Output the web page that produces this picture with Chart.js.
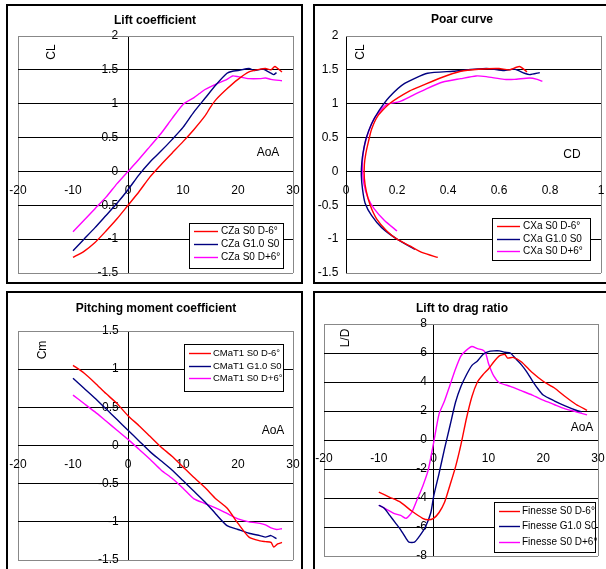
<!DOCTYPE html>
<html>
<head>
<meta charset="utf-8">
<script src="https://cdn.jsdelivr.net/npm/chart.js@4.4.0/dist/chart.umd.min.js"></script>
<style>
  body { margin: 0; background: #fff; width: 606px; height: 569px; overflow: hidden; position: relative; }
  .frame { position: absolute; border: 2px solid #000; box-sizing: border-box; }
  canvas { position: absolute; }
</style>
</head>
<body>
<div class="frame" style="left:6px;top:4px;width:297px;height:280px"></div>
<div class="frame" style="left:313px;top:4px;width:300px;height:280px"></div>
<div class="frame" style="left:6px;top:291px;width:297px;height:300px"></div>
<div class="frame" style="left:313px;top:291px;width:300px;height:300px"></div>

<canvas id="liftChart" style="left:0;top:0" width="303" height="285"></canvas>
<canvas id="polarChart" style="left:303px;top:0" width="303" height="285"></canvas>
<canvas id="momentChart" style="left:0;top:285px" width="303" height="284"></canvas>
<canvas id="ratioChart" style="left:303px;top:285px" width="303" height="284"></canvas>

<script>
// Lift coefficient CL vs AoA
const liftAoaRed = [-10, -8, -6, -4, -2, 0, 2, 4, 6, 8, 10, 12, 14, 15, 16, 18, 20, 22, 24, 25, 26, 26.7, 28];
const liftRed = [-1.27, -1.18, -1.05, -0.88, -0.70, -0.50, -0.30, -0.08, 0.10, 0.27, 0.44, 0.62, 0.82, 0.95, 1.06, 1.22, 1.36, 1.47, 1.51, 1.52, 1.50, 1.55, 1.47];
const liftAoaBlue = [-10, -8, -6, -4, -2, 0, 2, 4, 6, 8, 10, 12, 14, 16, 18, 19, 20, 22, 23, 24.5, 26, 26.5, 27];
const liftBlue = [-1.17, -1.0, -0.83, -0.65, -0.47, -0.27, -0.05, 0.14, 0.30, 0.47, 0.65, 0.88, 1.08, 1.28, 1.45, 1.48, 1.49, 1.52, 1.49, 1.51, 1.45, 1.43, 1.46];
const liftAoaMag = [-10, -8, -6, -4, -2, 0, 2, 4, 6, 8, 10, 12, 13, 14, 16, 18, 19, 20, 22, 24, 25, 26, 28];
const liftMag = [-0.89, -0.72, -0.55, -0.38, -0.18, 0.0, 0.18, 0.37, 0.56, 0.78, 0.99, 1.09, 1.15, 1.21, 1.29, 1.36, 1.41, 1.40, 1.37, 1.37, 1.38, 1.36, 1.34];

// Polar curve CL vs CD
const polarCdRed = [0.36, 0.30, 0.25, 0.20, 0.16, 0.12, 0.095, 0.08, 0.072, 0.072, 0.078, 0.088, 0.10, 0.125, 0.17, 0.25, 0.30, 0.37, 0.45, 0.52, 0.60, 0.64, 0.68, 0.71];
const polarClRed = [-1.27, -1.20, -1.10, -1.00, -0.88, -0.70, -0.50, -0.30, -0.10, 0.10, 0.27, 0.44, 0.62, 0.82, 1.00, 1.19, 1.27, 1.38, 1.48, 1.51, 1.52, 1.50, 1.55, 1.47];
const polarCdBlue = [0.27, 0.20, 0.14, 0.10, 0.075, 0.065, 0.06, 0.062, 0.068, 0.08, 0.10, 0.13, 0.17, 0.23, 0.32, 0.42, 0.55, 0.62, 0.66, 0.70, 0.72, 0.76];
const polarClBlue = [-1.15, -1.0, -0.83, -0.65, -0.47, -0.27, -0.05, 0.13, 0.30, 0.50, 0.70, 0.90, 1.10, 1.30, 1.45, 1.48, 1.52, 1.49, 1.51, 1.45, 1.43, 1.46];
const polarCdMag = [0.20, 0.15, 0.11, 0.085, 0.07, 0.065, 0.065, 0.072, 0.085, 0.11, 0.16, 0.21, 0.26, 0.315, 0.38, 0.45, 0.51, 0.55, 0.62, 0.66, 0.72, 0.75, 0.77];
const polarClMag = [-0.88, -0.72, -0.55, -0.38, -0.18, 0.0, 0.18, 0.37, 0.55, 0.78, 0.99, 1.03, 1.12, 1.22, 1.32, 1.37, 1.41, 1.40, 1.36, 1.36, 1.38, 1.36, 1.33];

// Pitching moment Cm vs AoA
const momentAoaRed = [-10, -8, -6, -4, -2, 0, 2, 4, 6, 8, 10, 12, 14, 16, 18, 20, 22, 24, 25, 26, 26.5, 27.2, 28];
const momentRed = [1.05, 0.95, 0.82, 0.68, 0.55, 0.39, 0.26, 0.12, -0.02, -0.14, -0.28, -0.42, -0.55, -0.70, -0.82, -1.02, -1.20, -1.25, -1.26, -1.27, -1.33, -1.29, -1.27];
const momentAoaBlue = [-10, -8, -6, -4, -2, 0, 2, 4, 6, 8, 10, 12, 14, 16, 18, 20, 22, 24, 25, 26, 27];
const momentBlue = [0.88, 0.75, 0.62, 0.48, 0.34, 0.20, 0.06, -0.08, -0.20, -0.32, -0.46, -0.60, -0.74, -0.90, -1.05, -1.10, -1.15, -1.18, -1.20, -1.18, -1.22];
const momentAoaMag = [-10, -8, -6, -4, -2, 0, 2, 4, 6, 8, 10, 12, 14, 16, 18, 20, 22, 24, 25, 26, 27, 28];
const momentMag = [0.66, 0.55, 0.44, 0.32, 0.20, 0.08, -0.05, -0.18, -0.32, -0.43, -0.56, -0.70, -0.76, -0.82, -0.89, -0.96, -1.00, -1.02, -1.04, -1.08, -1.10, -1.09];

// Lift to drag ratio L/D vs AoA
const ratioAoaRed = [-10, -8, -6, -4, -2, -1, 0, 1, 2, 3, 4, 5, 6, 7, 8, 9, 10, 11, 12, 13, 13.5, 14.5, 16, 18, 20, 22, 24, 26, 28];
const ratioRed = [-3.6, -3.95, -4.3, -4.9, -5.4, -5.5, -5.4, -5.0, -4.3, -3.1, -1.85, -0.3, 1.5, 3.0, 4.0, 4.5, 4.9, 5.4, 5.8, 5.9, 5.65, 5.7, 5.4, 4.65, 4.05, 3.6, 3.0, 2.45, 2.05];
const ratioAoaBlue = [-10, -9, -8, -7, -6, -5, -4.5, -3.5, -2.5, -1.5, -0.5, 0, 1, 2, 3, 4, 5, 6, 7, 8, 9, 10, 11, 12, 13, 14, 15, 16, 17, 18, 19, 20, 22, 24, 26, 27];
const ratioBlue = [-4.5, -4.7, -5.2, -5.7, -6.2, -6.8, -7.05, -7.05, -6.6, -6.0, -5.0, -3.9, -2.3, -0.6, 1.0, 2.6, 3.7, 4.5, 5.15, 5.45, 5.9, 6.1, 6.15, 6.15, 6.05, 6.0, 5.6, 5.2, 4.7, 4.1, 3.55, 3.1, 2.7, 2.35, 2.05, 1.95];
const ratioAoaMag = [-10, -9, -8, -7, -6, -5, -4, -3, -2, -1, 0, 1, 2, 3, 4, 5, 6, 7, 8, 9, 9.5, 10, 11, 12, 14, 16, 18, 20, 22, 24, 26, 28];
const ratioMag = [-4.5, -4.7, -4.9, -5.1, -5.2, -5.4, -5.0, -4.1, -3.2, -2.1, -0.2, 1.8, 2.7, 3.8, 4.9, 5.8, 6.2, 6.45, 6.3, 6.2, 6.0, 5.3, 4.4, 3.95, 3.7, 3.4, 3.1, 2.75, 2.45, 2.15, 1.95, 1.73];

const RED = '#ff0000';
const BLUE = '#000080';
const MAGENTA = '#ff00ff';
const FONT = '"Liberation Sans", Arial, sans-serif';

function pts(xs, ys) {
  return xs.map((x, i) => ({ x, y: ys[i] }));
}

function series(label, color, xs, ys) {
  return {
    label,
    data: pts(xs, ys),
    borderColor: color,
    backgroundColor: color,
    borderWidth: 1.4,
    pointRadius: 0,
    showLine: true,
    tension: 0.2,
    fill: false
  };
}

function fmt(v) {
  return String(Math.round(v * 100) / 100);
}

// Title and axis names drawn at fixed spots
const panelText = {
  id: 'panelText',
  afterDraw(chart, args, opts) {
    const ctx = chart.ctx;
    ctx.save();
    ctx.fillStyle = '#000';
    ctx.textAlign = 'center';
    ctx.textBaseline = 'middle';
    opts.items.forEach(it => {
      ctx.font = it.font || '12px ' + FONT;
      ctx.save();
      ctx.translate(it.x, it.y);
      if (it.rotate) ctx.rotate(it.rotate);
      ctx.fillText(it.text, 0, 0);
      ctx.restore();
    });
    ctx.restore();
  }
};

// Excel style legend box inside the plot
const boxLegend = {
  id: 'boxLegend',
  afterDraw(chart, args, o) {
    const ctx = chart.ctx;
    ctx.save();
    ctx.fillStyle = '#fff';
    ctx.fillRect(o.x, o.y, o.w, o.h);
    ctx.strokeStyle = '#000';
    ctx.lineWidth = 1;
    ctx.strokeRect(o.x + 0.5, o.y + 0.5, o.w, o.h);
    ctx.font = o.font;
    ctx.textAlign = 'left';
    ctx.textBaseline = 'middle';
    chart.data.datasets.forEach((ds, i) => {
      const y = Math.round(o.rows[i]) + 0.5;
      ctx.strokeStyle = ds.borderColor;
      ctx.lineWidth = 1.4;
      ctx.beginPath();
      ctx.moveTo(o.x1, y);
      ctx.lineTo(o.x2, y);
      ctx.stroke();
      ctx.fillStyle = '#000';
      ctx.fillText(ds.label, o.tx, o.rows[i] + 0.5);
    });
    ctx.restore();
  }
};

function axes(o) {
  const tickFont = { family: FONT, size: 12 };
  return {
    x: {
      type: 'linear',
      min: o.xmin,
      max: o.xmax,
      position: { y: 0 },
      // the (invisible) tick length pushes labels below the axis without shrinking the plot
      ticks: { stepSize: o.xstep, padding: 0, autoSkip: false, maxRotation: 0, font: tickFont, color: '#000', callback: fmt },
      grid: {
        drawTicks: true,
        tickLength: o.xpad,
        tickColor: 'rgba(0,0,0,0)',
        color: c => c.tick.value === 0 ? '#000' : ((c.tick.value === o.xmin || c.tick.value === o.xmax) ? '#888' : 'rgba(0,0,0,0)')
      },
      border: { display: false }
    },
    y: {
      type: 'linear',
      min: o.ymin,
      max: o.ymax,
      position: { x: o.ylab },
      ticks: { stepSize: o.ystep, padding: 0, autoSkip: false, font: tickFont, color: '#000', callback: fmt },
      grid: {
        drawTicks: false,
        color: c => (c.tick.value === o.ymin || c.tick.value === o.ymax) ? '#888' : '#000'
      },
      border: { display: false }
    }
  };
}

function makeChart(id, datasets, scaleOpts, padding, texts, legend) {
  return new Chart(document.getElementById(id), {
    type: 'scatter',
    data: { datasets },
    options: {
      responsive: false,
      animation: false,
      layout: { padding },
      scales: axes(scaleOpts),
      plugins: {
        legend: { display: false },
        tooltip: { enabled: false },
        panelText: { items: texts },
        boxLegend: legend
      }
    },
    plugins: [panelText, boxLegend]
  });
}

const TITLE = 'bold 12px ' + FONT;
const UP = -Math.PI / 2;

makeChart('liftChart', [
  series('CZa S0 D-6°', RED, liftAoaRed, liftRed),
  series('CZa G1.0 S0', BLUE, liftAoaBlue, liftBlue),
  series('CZa S0 D+6°', MAGENTA, liftAoaMag, liftMag)
], { xmin: -20, xmax: 30, xstep: 10, xpad: 12, ymin: -1.5, ymax: 2, ystep: 0.5, ylab: -1.8 },
  { left: 18, top: 36, right: 10, bottom: 12 },
  [
    { text: 'Lift coefficient', x: 155, y: 21, font: TITLE },
    { text: 'CL', x: 52, y: 52, rotate: UP },
    { text: 'AoA', x: 268, y: 153 }
  ],
  { x: 189, y: 223, w: 94, h: 45, rows: [230.5, 243.5, 256.5], x1: 194, x2: 218, tx: 221, font: '10px ' + FONT });

makeChart('polarChart', [
  series('CXa S0 D-6°', RED, polarCdRed, polarClRed),
  series('CXa G1.0 S0', BLUE, polarCdBlue, polarClBlue),
  series('CXa S0 D+6°', MAGENTA, polarCdMag, polarClMag)
], { xmin: 0, xmax: 1, xstep: 0.2, xpad: 12, ymin: -1.5, ymax: 2, ystep: 0.5, ylab: -0.03 },
  { left: 43, top: 36, right: 5, bottom: 12 },
  [
    { text: 'Poar curve', x: 159, y: 20, font: TITLE },
    { text: 'CL', x: 58, y: 52, rotate: UP },
    { text: 'CD', x: 269, y: 155 }
  ],
  { x: 189, y: 218, w: 98, h: 42, rows: [225.5, 238.5, 250.5], x1: 194, x2: 217, tx: 220, font: '10px ' + FONT });

makeChart('momentChart', [
  series('CMaT1 S0 D-6°', RED, momentAoaRed, momentRed),
  series('CMaT1 G1.0 S0', BLUE, momentAoaBlue, momentBlue),
  series('CMaT1 S0 D+6°', MAGENTA, momentAoaMag, momentMag)
], { xmin: -20, xmax: 30, xstep: 10, xpad: 12, ymin: -1.5, ymax: 1.5, ystep: 0.5, ylab: -1.7 },
  { left: 18, top: 46, right: 10, bottom: 9 },
  [
    { text: 'Pitching moment coefficient', x: 156, y: 24, font: TITLE },
    { text: 'Cm', x: 43, y: 65, rotate: UP },
    { text: 'AoA', x: 273, y: 146 }
  ],
  { x: 184, y: 59, w: 99, h: 47, rows: [67.7, 80.5, 93], x1: 189, x2: 211, tx: 213, font: '9.5px ' + FONT });

makeChart('ratioChart', [
  series('Finesse S0 D-6°', RED, ratioAoaRed, ratioRed),
  series('Finesse G1.0 S0', BLUE, ratioAoaBlue, ratioBlue),
  series('Finesse S0 D+6°', MAGENTA, ratioAoaMag, ratioMag)
], { xmin: -20, xmax: 30, xstep: 10, xpad: 11, ymin: -8, ymax: 8, ystep: 2, ylab: -1.2 },
  { left: 21, top: 39, right: 8, bottom: 13 },
  [
    { text: 'Lift to drag ratio', x: 159, y: 24, font: TITLE },
    { text: 'L/D', x: 43, y: 53, rotate: UP },
    { text: 'AoA', x: 279, y: 143 }
  ],
  { x: 191, y: 217, w: 101, h: 50, rows: [226, 241, 256.5], x1: 196, x2: 217, tx: 219, font: '10px ' + FONT });
</script>
</body>
</html>
